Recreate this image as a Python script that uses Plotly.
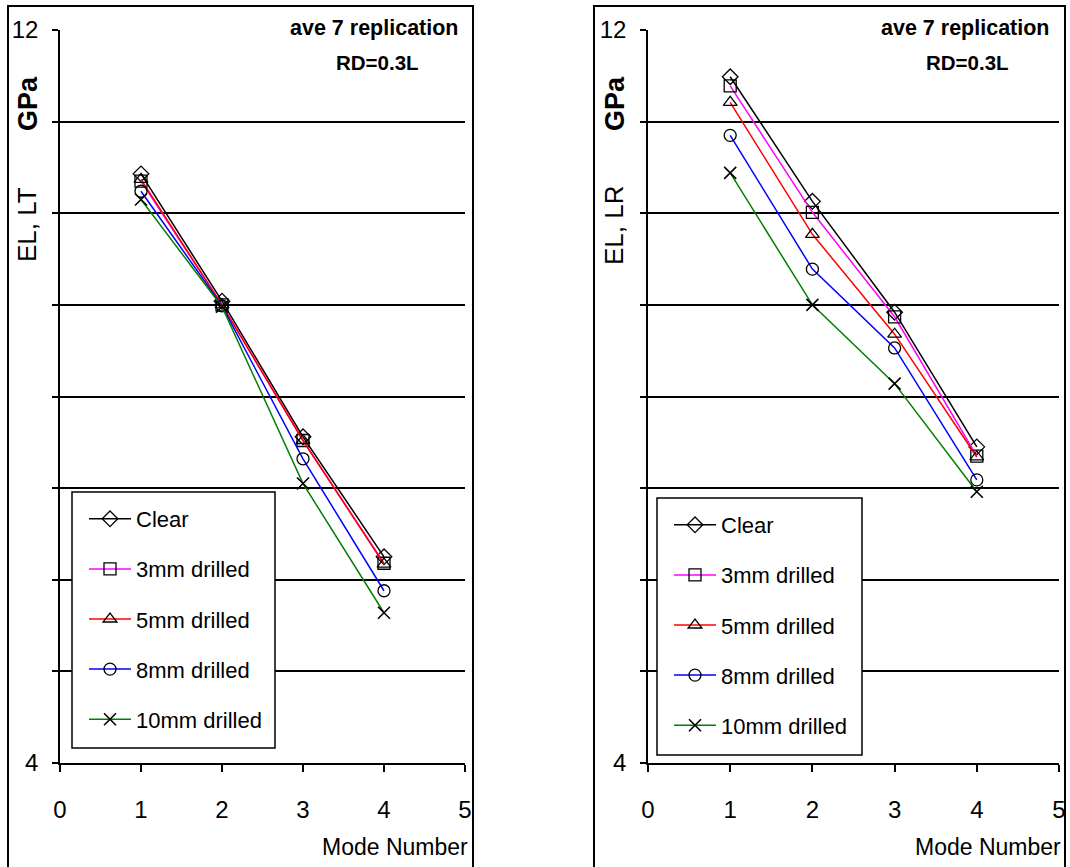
import plotly.graph_objects as go

# Mode numbers on the x axis
modes = [1, 2, 3, 4]

# Dynamic modulus EL (GPa), LT plane, average of 7 replications
lt_clear = [10.43, 9.04, 7.56, 6.25]
lt_3mm = [10.35, 9.00, 7.52, 6.18]
lt_5mm = [10.37, 9.00, 7.52, 6.17]
lt_8mm = [10.24, 8.99, 7.32, 5.88]
lt_10mm = [10.15, 8.98, 7.05, 5.64]

# Dynamic modulus EL (GPa), LR plane, average of 7 replications
lr_clear = [11.49, 10.13, 8.92, 7.45]
lr_3mm = [11.39, 10.01, 8.87, 7.35]
lr_5mm = [11.21, 9.77, 8.68, 7.34]
lr_8mm = [10.85, 9.39, 8.53, 7.09]
lr_10mm = [10.44, 9.00, 8.14, 6.96]

series_names = ["Clear", "3mm drilled", "5mm drilled", "8mm drilled", "10mm drilled"]
line_colors = ["#000000", "#FF00FF", "#FF0000", "#0000FF", "#008000"]
symbols = ["diamond-open", "square-open", "triangle-up-open", "circle-open", "x-thin-open"]

y_ticks = [4, 12]
x_ticks = [0, 1, 2, 3, 4, 5]

W, H = 1070, 867
FONT = "Arial, Liberation Sans, sans-serif"


def px(x):
    return x / W


def py(y):
    return 1 - y / H


fig = go.Figure()

panels = [
    ("x", "y", "legend", [lt_clear, lt_3mm, lt_5mm, lt_8mm, lt_10mm]),
    ("x2", "y2", "legend2", [lr_clear, lr_3mm, lr_5mm, lr_8mm, lr_10mm]),
]

for xa, ya, leg, data in panels:
    for i, (name, vals) in enumerate(zip(series_names, data)):
        fig.add_trace(go.Scatter(
            x=modes, y=vals, name=name, mode="lines+markers",
            xaxis=xa, yaxis=ya, legend=leg, legendgroup=f"{leg}-{i}",
            line=dict(color=line_colors[i], width=1.5),
            marker=dict(symbol=symbols[i], size=12, color="black",
                        line=dict(width=1.3 if i < 4 else 1.6)),
        ))

plot_top, plot_bottom = 30, 763
ydom = [py(plot_bottom), py(plot_top)]

xaxis_common = dict(
    range=[0, 5], tickvals=x_ticks, showgrid=False, zeroline=False,
    showline=True, linecolor="black", linewidth=2,
    ticks="outside", ticklen=7, tickwidth=1.5, tickcolor="black",
    tickfont=dict(family=FONT, size=24, color="black"),
    ticklabelstandoff=17, automargin=False, fixedrange=True,
)
yaxis_common = dict(
    range=[4, 12], tickvals=y_ticks, zeroline=False,
    showline=True, linecolor="black", linewidth=1.5,
    showgrid=True, gridcolor="#c8c8c8", gridwidth=1,
    ticks="outside", ticklen=6, tickwidth=1.5, tickcolor="black",
    minor=dict(dtick=1, tick0=4, showgrid=True, gridcolor="black", gridwidth=2,
               ticks="outside", ticklen=6, tickwidth=1.5, tickcolor="black"),
    tickfont=dict(family=FONT, size=24, color="black"),
    ticklabelstandoff=9, automargin=False, fixedrange=True,
)

legend_common = dict(
    xanchor="left", yanchor="top", bgcolor="rgba(0,0,0,0)", borderwidth=0,
    traceorder="grouped", tracegroupgap=18.5, itemwidth=42,
    font=dict(family=FONT, size=22, color="black"),
)

fig.update_layout(
    width=W, height=H,
    template="none",
    margin=dict(l=0, r=0, t=0, b=0, pad=0),
    paper_bgcolor="white", plot_bgcolor="white",
    font=dict(family=FONT, color="black"),
    xaxis=dict(domain=[px(60), px(465)], anchor="y", **xaxis_common),
    yaxis=dict(domain=ydom, anchor="x", **yaxis_common),
    xaxis2=dict(domain=[px(648), px(1059)], anchor="y2", **xaxis_common),
    yaxis2=dict(domain=ydom, anchor="x2", **yaxis_common),
    legend=dict(x=px(84), y=py(498), **legend_common),
    legend2=dict(x=px(669), y=py(504), **legend_common),
    showlegend=True,
)

shapes = []
# outer chart frames
for x0, x1 in [(8, 473), (594, 1065)]:
    shapes.append(dict(type="rect", xref="paper", yref="paper",
                       x0=px(x0), x1=px(x1), y0=-0.02, y1=py(6),
                       line=dict(color="black", width=2), fillcolor="rgba(0,0,0,0)",
                       layer="below"))
# legend boxes
for x0, x1, y0, y1 in [(72, 275, 492, 748), (657, 862, 498, 755)]:
    shapes.append(dict(type="rect", xref="paper", yref="paper",
                       x0=px(x0), x1=px(x1), y0=py(y1), y1=py(y0),
                       line=dict(color="black", width=1.5), fillcolor="white",
                       layer="above"))
fig.update_layout(shapes=shapes)

annotations = []
for (yt_x, title, rep_right, rd_center, mn_right) in [
    (27, "EL, LT", 461, 377, 470),
    (614, "EL, LR", 1052, 967, 1063),
]:
    annotations += [
        dict(text=title, x=px(yt_x), y=py(225), textangle=-90,
             font=dict(family=FONT, size=26)),
        dict(text="<b>GPa</b>", x=px(yt_x + 1), y=py(104), textangle=-90,
             font=dict(family=FONT, size=27)),
        dict(text="<b>ave 7 replication</b>", x=px(rep_right), y=py(28),
             xanchor="right", font=dict(family=FONT, size=21.5)),
        dict(text="<b>RD=0.3L</b>", x=px(rd_center), y=py(62),
             font=dict(family=FONT, size=20.5)),
        dict(text="Mode Number", x=px(mn_right), y=py(847), xanchor="right",
             font=dict(family=FONT, size=23)),
    ]
for a in annotations:
    a.update(xref="paper", yref="paper", showarrow=False)
    a.setdefault("xanchor", "center")
    a.setdefault("yanchor", "middle")
fig.update_layout(annotations=annotations)

fig.write_html("out.html", config={"displayModeBar": False})
